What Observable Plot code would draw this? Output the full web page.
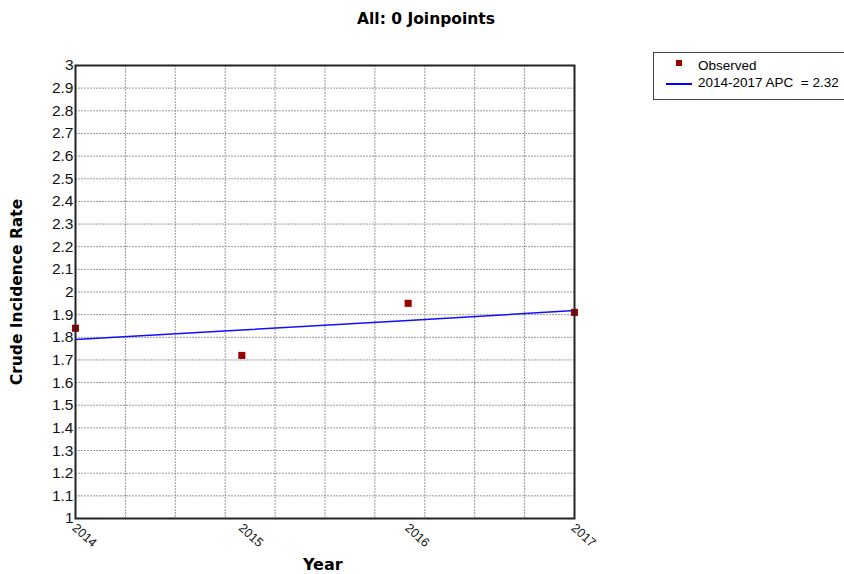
<!DOCTYPE html>
<html><head><meta charset="utf-8">
<script src="https://cdn.jsdelivr.net/npm/d3@7"></script>
<script src="https://cdn.jsdelivr.net/npm/@observablehq/plot@0.6"></script>
<style>
body{margin:0;background:#fff;}
#wrap{position:relative;width:844px;height:574px;overflow:hidden;}
.t{position:absolute;font-family:"DejaVu Sans",Verdana,sans-serif;font-weight:bold;color:#000;white-space:nowrap;line-height:1.1;}
#legend{position:absolute;left:653px;top:52px;width:200px;height:48px;border:1px solid #444;box-sizing:border-box;font-family:"Liberation Sans",Arial,sans-serif;font-size:13.5px;color:#000;white-space:pre;}
</style></head>
<body><div id="wrap"></div>
<script>
const years = [2014, 2015, 2016, 2017];
const observed = [1.84, 1.72, 1.95, 1.91];
const fitted = [1.790, 1.832, 1.874, 1.918];
const yTicks = d3.range(10, 31).map(v => v / 10);
const xGrid = d3.range(0, 11).map(k => 2014 + k * 0.3);
const title = "All: 0 Joinpoints";
const xLabel = "Year";
const yLabel = "Crude Incidence Rate";
const legendObserved = "Observed";
const legendFit = "2014-2017 APC  = 2.32";

const obsData = years.map((y, i) => ({year: y, value: observed[i]}));
const fitData = years.map((y, i) => ({year: y, value: fitted[i]}));
const tickFont = "Liberation Sans, Arial, sans-serif";

const chart = Plot.plot({
  width: 844, height: 574,
  marginLeft: 75, marginRight: 270, marginTop: 65, marginBottom: 56,
  style: {fontFamily: tickFont, background: "#fff"},
  x: {domain: [2014, 2017], axis: null},
  y: {domain: [1, 3], axis: null},
  marks: [
    Plot.ruleY(yTicks.filter(v => v > 1 && v < 3), {stroke: "#999", strokeDasharray: "2,1", strokeWidth: 1}),
    Plot.ruleX(xGrid.filter(v => v > 2014.01 && v < 2016.99), {stroke: "#999", strokeDasharray: "2,1", strokeWidth: 1}),
    Plot.line(fitData, {x: "year", y: "value", stroke: "#1010ff", strokeWidth: 1.5}),
    Plot.dot(obsData, {x: "year", y: "value", symbol: "square", r: 4, fill: "#990000", stroke: "none"}),
    Plot.frame({stroke: "#222", strokeWidth: 2}),
    Plot.text(yTicks, {x: 2014, y: d => d, text: d => String(d), textAnchor: "end", dx: -2, fontSize: 15.5, fill: "#111"}),
    Plot.text(years, {x: d => d, y: 1, text: d => String(d), rotate: 42, textAnchor: "start", lineAnchor: "top", dx: 2, dy: 4, fontSize: 12.5, fill: "#111"})
  ]
});
const wrap = document.getElementById("wrap");
wrap.appendChild(chart);

function addText(txt, css) {
  const d = document.createElement("div");
  d.className = "t"; d.textContent = txt;
  Object.assign(d.style, css);
  wrap.appendChild(d);
  return d;
}
addText(title, {left: "0px", width: "852px", textAlign: "center", top: "11px", fontSize: "15.5px"});
addText(xLabel, {left: "303px", top: "556px", fontSize: "16px"});
addText(yLabel, {fontSize: "15.5px", left: "18px", top: "292px", transform: "translate(-50%,-50%) rotate(-90deg)"});

const lg = document.createElement("div");
lg.id = "legend";
lg.innerHTML = `<svg width="60" height="45" style="position:absolute;left:0;top:0">
  <rect x="22" y="7" width="6" height="6" fill="#990000"/>
  <line x1="12" y1="31" x2="38" y2="31" stroke="#0000ff" stroke-width="2"/></svg>
  <div style="position:absolute;left:44px;top:5px">${legendObserved}</div>
  <div style="position:absolute;left:44px;top:22px">${legendFit}</div>`;
wrap.appendChild(lg);
</script>
</body></html>
